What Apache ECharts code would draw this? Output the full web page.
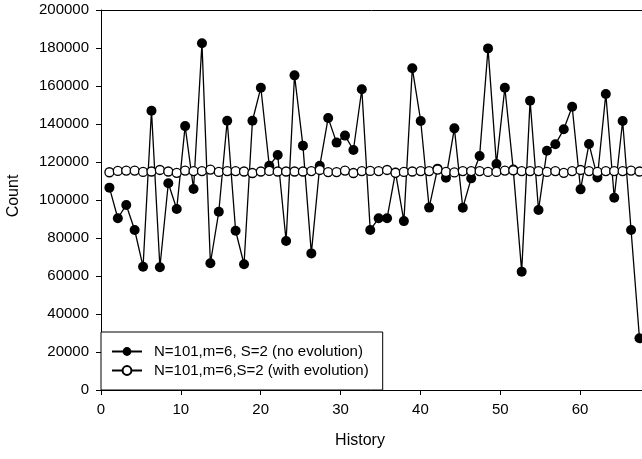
<!DOCTYPE html>
<html>
<head>
<meta charset="utf-8">
<script src="https://cdn.jsdelivr.net/npm/echarts@6/dist/echarts.min.js"></script>
<style>html,body{margin:0;padding:0;background:#fff}#c{width:642px;height:459px}</style>
</head>
<body>
<div id="c"></div>
<script>
var historyIdx = [1,2,3,4,5,6,7,8,9,10,11,12,13,14,15,16,17,18,19,20,21,22,23,24,25,26,27,28,29,30,31,32,33,34,35,36,37,38,39,40,41,42,43,44,45,46,47,48,49,50,51,52,53,54,55,56,57,58,59,60,61,62,63,64];
var noEvolution = [106500,90400,97400,84200,64900,147000,64600,108800,95300,138900,
  105800,182500,66700,93800,141700,83800,66200,141700,159100,118000,
  123700,78400,165600,128600,71900,118000,143200,130200,133900,126300,
  158300,84200,90400,90400,114500,88900,169300,141600,96000,116500,
  111700,137700,95900,111400,123200,179800,118900,159100,116000,62300,
  152300,94700,125900,129300,137200,149100,105600,129500,111900,155800,
  101200,141600,84200,27200];
var withEvolution = [114600,115300,115500,115500,114800,115000,115800,115000,114300,115500,
  115200,115200,116000,114800,115200,115200,115000,114200,115000,115300,
  115000,115000,115000,115000,115200,115800,114700,114700,115500,114200,
  115200,115300,115200,115800,114300,114800,115000,115200,115200,116000,
  114800,114500,115200,115200,115200,114800,114800,115500,115600,115200,
  115200,115200,114800,115200,114300,115200,115800,115200,114800,115200,
  115200,115200,115500,115000];
var xTickLabels = [0,10,20,30,40,50,60];
var seriesNames = ['N=101,m=6, S=2 (no evolution)','N=101,m=6,S=2 (with evolution)'];

var FONT = 'Liberation Sans, Arial, Helvetica, sans-serif';
function pairs(xs, ys){ return xs.map(function(x,i){ return [x, ys[i]]; }); }

var chart = echarts.init(document.getElementById('c'), null, {renderer:'canvas'});
chart.setOption({
  animation: false,
  backgroundColor: '#fff',
  grid: {left: 101, top: 10, right: -1, bottom: 69, containLabel: false},
  xAxis: [{
    type: 'value', position: 'bottom', min: 0, max: 67.75, interval: 10,
    axisLine: {show: true, lineStyle: {color: '#000', width: 1}},
    axisTick: {show: true, inside: false, length: 5, lineStyle: {color: '#000'}},
    axisLabel: {show: true, color: '#000', fontSize: 15, fontFamily: FONT, margin: 12, showMaxLabel: false,
      formatter: function(v){ return xTickLabels.indexOf(v) >= 0 ? String(v) : ''; }},
    splitLine: {show: false}
  },{
    type: 'value', position: 'top', min: 0, max: 64.3,
    axisLine: {show: true, onZero: false, lineStyle: {color: '#000', width: 1}},
    axisTick: {show: false}, axisLabel: {show: false}, splitLine: {show: false}
  }],
  yAxis: {
    type: 'value', min: 0, max: 200000, interval: 20000,
    axisLine: {show: true, lineStyle: {color: '#000', width: 1}},
    axisTick: {show: true, inside: false, length: 5, lineStyle: {color: '#000'}},
    axisLabel: {color: '#000', fontSize: 15, fontFamily: FONT, margin: 12,
      formatter: function(v){ return String(v); }},
    splitLine: {show: false}
  },
  legend: {
    orient: 'vertical', left: 101, top: 332,
    padding: [12, 14, 12, 10],
    itemWidth: 30, itemHeight: 11, itemGap: 4,
    backgroundColor: '#fff', borderColor: '#000', borderWidth: 1, borderRadius: 0,
    textStyle: {color: '#000', fontSize: 15, fontFamily: FONT, lineHeight: 15, padding: [0,0,0,7]},
    data: seriesNames
  },
  series: [{
    name: seriesNames[0], type: 'line', xAxisIndex: 1,
    data: pairs(historyIdx, noEvolution),
    symbol: 'circle', symbolSize: 10,
    lineStyle: {color: '#000', width: 1.3},
    itemStyle: {color: '#000', borderColor: '#000', borderWidth: 0},
    z: 2
  },{
    name: seriesNames[1], type: 'line', xAxisIndex: 1,
    data: pairs(historyIdx, withEvolution),
    symbol: 'circle', symbolSize: 9,
    lineStyle: {color: '#000', width: 1.3},
    itemStyle: {color: '#fff', borderColor: '#000', borderWidth: 1.3},
    z: 3
  }],
  graphic: [{
    type: 'text', x: 14, y: 196, rotation: Math.PI/2,
    style: {text: 'Count', font: '16px ' + FONT, fill: '#000', textAlign: 'center', textVerticalAlign: 'middle'}
  },{
    type: 'text', x: 360, y: 441,
    style: {text: 'History', font: '16px ' + FONT, fill: '#000', textAlign: 'center', textVerticalAlign: 'middle'}
  }]
});
</script>
</body>
</html>
